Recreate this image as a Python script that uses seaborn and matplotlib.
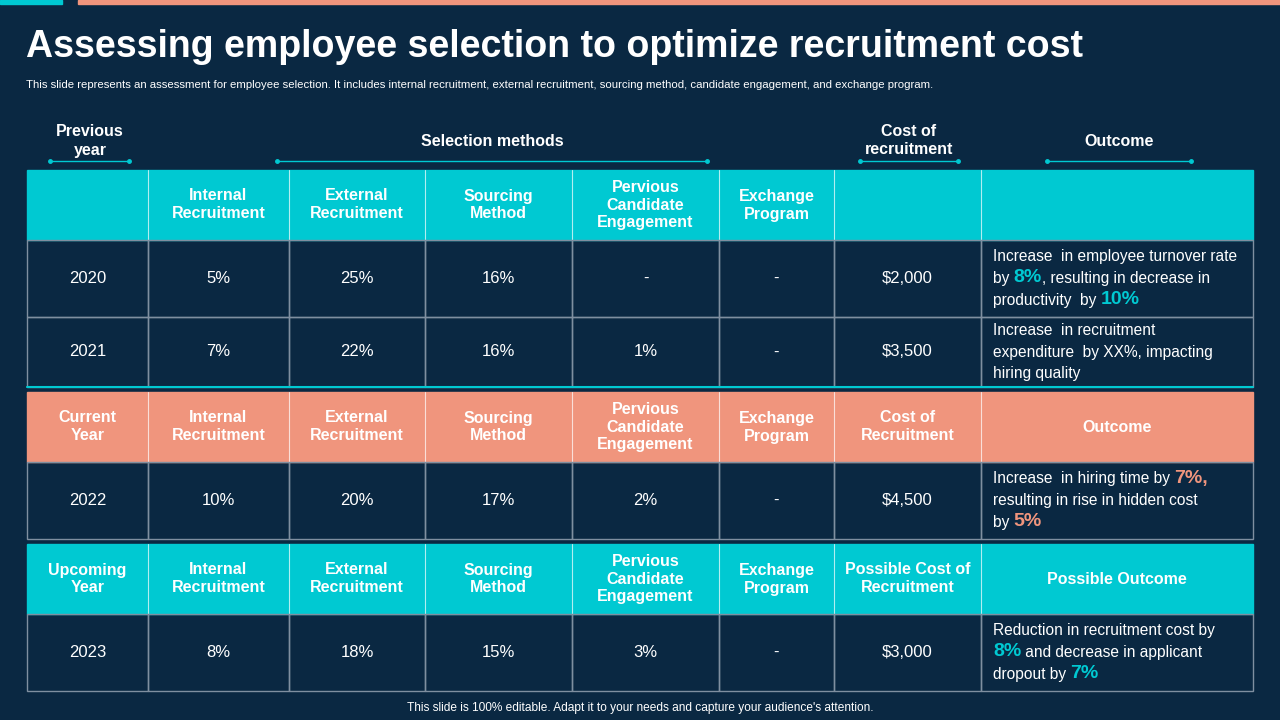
import matplotlib
matplotlib.use("Agg")
import matplotlib.pyplot as plt
import seaborn as sns
from matplotlib.patches import Rectangle

sns.set_style("white")
plt.rcParams["font.family"] = "Liberation Sans"

BG = "#0a2842"; TEAL = "#00c9d2"; SALMON = "#f0957d"; GRID = "#7f8fa0"; WHITE = "white"

title = "Assessing employee selection to optimize recruitment cost"
subtitle = ("This slide represents an assessment for employee selection. It includes internal recruitment, "
            "external recruitment, sourcing method, candidate engagement, and exchange program.")
footer = "This slide is 100% editable. Adapt it to your needs and capture your audience's attention."

method_headers = ["Internal\nRecruitment", "External\nRecruitment", "Sourcing\nMethod",
                  "Pervious\nCandidate\nEngagement", "Exchange\nProgram"]
years = ["2020", "2021", "2022", "2023"]
internal = ["5%", "7%", "10%", "8%"]
external = ["25%", "22%", "20%", "18%"]
sourcing = ["16%", "16%", "17%", "15%"]
engagement = ["-", "1%", "2%", "3%"]
exchange = ["-", "-", "-", "-"]
cost = ["$2,000", "$3,500", "$4,500", "$3,000"]
outcomes = [
    [[("Increase  in employee turnover rate", 0)], [("by ", 0), ("8%", 1), (", resulting in decrease in", 0)],
     [("productivity  by ", 0), ("10%", 1)]],
    [[("Increase  in recruitment", 0)], [("expenditure  by XX%, impacting", 0)], [("hiring quality", 0)]],
    [[("Increase  in hiring time by ", 0), ("7%,", 2)], [("resulting in rise in hidden cost", 0)],
     [("by ", 0), ("5%", 2)]],
    [[("Reduction in recruitment cost by", 0)], [("8%", 1), (" and decrease in applicant", 0)],
     [("dropout by ", 0), ("7%", 1)]],
]

fig = plt.figure(figsize=(12.8, 7.2), dpi=100, facecolor=BG)
ax = fig.add_axes([0, 0, 1, 1]); ax.set_xlim(0, 1280); ax.set_ylim(720, 0); ax.axis("off")
ax.set_facecolor(BG)

ax.add_patch(Rectangle((0, 0), 62, 4, color=TEAL))
ax.add_patch(Rectangle((78, 0), 1202, 4, color=SALMON))
ax.text(26, 47, title, fontsize=27, fontweight="bold", color=WHITE, va="center", ha="left")
ax.text(26, 85, subtitle, fontsize=8.2, color=WHITE, va="center", ha="left")
ax.text(640, 708, footer, fontsize=8.6, color=WHITE, va="center", ha="center")

for lab, cx, x0, x1 in [("Previous\nyear", 90, 50, 129), ("Selection methods", 492, 277, 707),
                        ("Cost of\nrecruitment", 909, 860, 958), ("Outcome", 1119, 1047, 1191)]:
    ax.text(cx, 141, lab, fontsize=11.5, fontweight="bold", color=WHITE, ha="center", va="center",
            linespacing=1.25)
    ax.plot([x0, x1], [161, 161], color=TEAL, lw=1)
    ax.plot([x0, x1], [161, 161], "o", color=TEAL, ms=2.5)

xs = [27, 148, 289, 425, 572, 719, 834, 981, 1253]

def header_row(y0, y1, color, first, costlab, outlab):
    ax.add_patch(Rectangle((xs[0], y0), xs[-1] - xs[0], y1 - y0, color=color, zorder=1))
    labs = [first] + method_headers + [costlab, outlab]
    for i, lab in enumerate(labs):
        if i > 0:
            ax.plot([xs[i], xs[i]], [y0, y1], color=WHITE, lw=0.8, alpha=0.7, zorder=2)
        ax.text((xs[i] + xs[i + 1]) / 2, (y0 + y1) / 2, lab, fontsize=11.5, fontweight="bold",
                color=WHITE, ha="center", va="center", linespacing=1.25, zorder=3)

def draw_outcome(lines, y0, y1):
    n = len(lines); lh = 21.5
    start = (y0 + y1) / 2 - (n - 1) * lh / 2
    r = fig.canvas.get_renderer()
    for j, segs in enumerate(lines):
        x = 993; y = start + j * lh
        for txt, kind in segs:
            if kind == 0:
                t = ax.text(x, y, txt, fontsize=11.2, color=WHITE, va="center", ha="left")
            else:
                t = ax.text(x, y - 1, txt, fontsize=14, fontweight="bold",
                            color=TEAL if kind == 1 else SALMON, va="center", ha="left")
            x += t.get_window_extent(r).width

def data_row(i, y0, y1):
    vals = [years[i], internal[i], external[i], sourcing[i], engagement[i], exchange[i], cost[i]]
    for k in range(8):
        ax.add_patch(Rectangle((xs[k], y0), xs[k + 1] - xs[k], y1 - y0, fill=False,
                               edgecolor=GRID, lw=1, zorder=2))
    for k, v in enumerate(vals):
        ax.text((xs[k] + xs[k + 1]) / 2, (y0 + y1) / 2, v, fontsize=12, color=WHITE,
                ha="center", va="center")
    draw_outcome(outcomes[i], y0, y1)

fig.canvas.draw()
header_row(170, 240, TEAL, "", "", "")
data_row(0, 240, 317); data_row(1, 317, 387)
ax.plot([xs[0], xs[-1]], [387, 387], color=TEAL, lw=1.5, zorder=3)
header_row(392, 462, SALMON, "Current\nYear", "Cost of\nRecruitment", "Outcome")
data_row(2, 462, 539)
header_row(544, 614, TEAL, "Upcoming\nYear", "Possible Cost of\nRecruitment", "Possible Outcome")
data_row(3, 614, 691)

fig.savefig("out.png", dpi=100, facecolor=BG)
